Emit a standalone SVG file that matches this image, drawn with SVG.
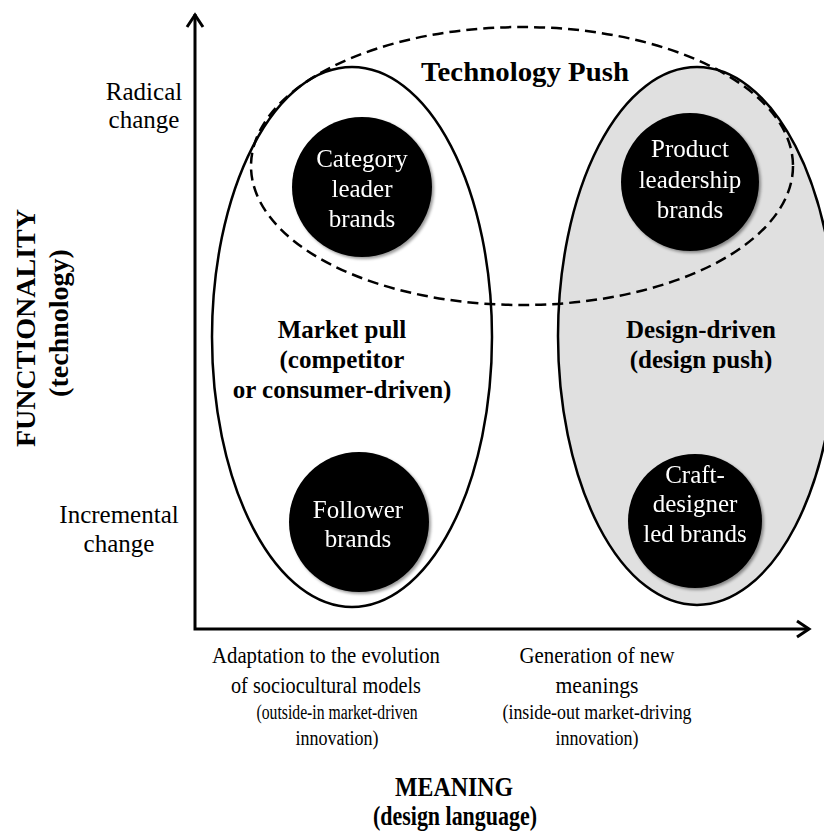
<svg xmlns="http://www.w3.org/2000/svg" width="824" height="836" viewBox="0 0 824 836">
<defs>
<style>
.t{font-family:"Liberation Serif","Times New Roman",serif;fill:#000;text-anchor:middle}
.b{font-weight:bold}
.w{fill:#fff}
.s25{font-size:25px}
.ax{stroke:#000;stroke-width:3;fill:none}
.ell{stroke:#000;stroke-width:2.5}
</style>
<filter id="sh" x="-20%" y="-20%" width="140%" height="140%">
<feGaussianBlur in="SourceAlpha" stdDeviation="1.5"/>
<feOffset dx="1.5" dy="2" result="o"/>
<feComponentTransfer><feFuncA type="linear" slope="0.4"/></feComponentTransfer>
<feMerge><feMergeNode/><feMergeNode in="SourceGraphic"/></feMerge>
</filter>
</defs>
<rect width="824" height="836" fill="#fff"/>

<g id="design-driven">
<ellipse class="ell" cx="697" cy="336" rx="139" ry="269" fill="#e0e0e0"/>
<text class="t b s25" x="701" y="338">Design-driven</text>
<text class="t b s25" x="701" y="368">(design push)</text>
</g>

<g id="market-pull">
<ellipse class="ell" cx="352" cy="337" rx="140" ry="270" fill="none"/>
<text class="t b s25" x="342" y="338">Market pull</text>
<text class="t b s25" x="342" y="368">(competitor</text>
<text class="t b s25" x="342" y="398">or consumer-driven)</text>
</g>

<g id="technology-push">
<ellipse cx="522" cy="166" rx="271" ry="139" fill="none" stroke="#000" stroke-width="2.5" stroke-dasharray="11 6"/>
<text class="t b" x="525" y="81" font-size="27" textLength="208" lengthAdjust="spacingAndGlyphs">Technology Push</text>
</g>

<g id="category-leader" filter="url(#sh)">
<circle cx="362" cy="187" r="70" fill="#000"/>
<text class="t w s25" x="362" y="167">Category</text>
<text class="t w s25" x="362" y="197">leader</text>
<text class="t w s25" x="362" y="227">brands</text>
</g>

<g id="product-leadership" filter="url(#sh)">
<circle cx="690" cy="182" r="69" fill="#000"/>
<text class="t w s25" x="690" y="157">Product</text>
<text class="t w s25" x="690" y="188">leadership</text>
<text class="t w s25" x="690" y="218">brands</text>
</g>

<g id="follower" filter="url(#sh)">
<circle cx="359" cy="522" r="70" fill="#000"/>
<text class="t w s25" x="358" y="518">Follower</text>
<text class="t w s25" x="358" y="547">brands</text>
</g>

<g id="craft-designer" filter="url(#sh)">
<circle cx="695" cy="521" r="67" fill="#000"/>
<text class="t w s25" x="695" y="483">Craft-</text>
<text class="t w s25" x="695" y="512">designer</text>
<text class="t w s25" x="695" y="542">led brands</text>
</g>

<g id="connectors">
<path class="ax" d="M195,14 V629 H809"/>
<path class="ax" d="M187,27 L195,15 L203,27"/>
<path class="ax" d="M797,621 L809,629 L797,637"/>
</g>

<g id="y-labels">
<text class="t s25" x="144" y="100">Radical</text>
<text class="t s25" x="144" y="128">change</text>
<text class="t s25" x="119" y="523">Incremental</text>
<text class="t s25" x="119" y="552">change</text>
<text class="t b" font-size="28" transform="translate(35,328) rotate(-90)" x="0" y="0">FUNCTIONALITY</text>
<text class="t b" font-size="28" transform="translate(68,323) rotate(-90)" x="0" y="0">(technology)</text>
</g>

<g id="x-labels">
<text class="t" font-size="24" x="326" y="663" textLength="228" lengthAdjust="spacingAndGlyphs">Adaptation to the evolution</text>
<text class="t" font-size="24" x="326" y="693" textLength="190" lengthAdjust="spacingAndGlyphs">of sociocultural models</text>
<text class="t" font-size="20" x="337" y="719" textLength="161" lengthAdjust="spacingAndGlyphs">(outside-in market-driven</text>
<text class="t" font-size="20" x="337" y="745" textLength="83" lengthAdjust="spacingAndGlyphs">innovation)</text>
<text class="t" font-size="24" x="597" y="663" textLength="155" lengthAdjust="spacingAndGlyphs">Generation of new</text>
<text class="t" font-size="24" x="597" y="693" textLength="83" lengthAdjust="spacingAndGlyphs">meanings</text>
<text class="t" font-size="20" x="597" y="719" textLength="189" lengthAdjust="spacingAndGlyphs">(inside-out market-driving</text>
<text class="t" font-size="20" x="597" y="745" textLength="83" lengthAdjust="spacingAndGlyphs">innovation)</text>
<text class="t b" font-size="28" x="454" y="796" textLength="118" lengthAdjust="spacingAndGlyphs">MEANING</text>
<text class="t b" font-size="28" x="455" y="825" textLength="164" lengthAdjust="spacingAndGlyphs">(design language)</text>
</g>
</svg>
